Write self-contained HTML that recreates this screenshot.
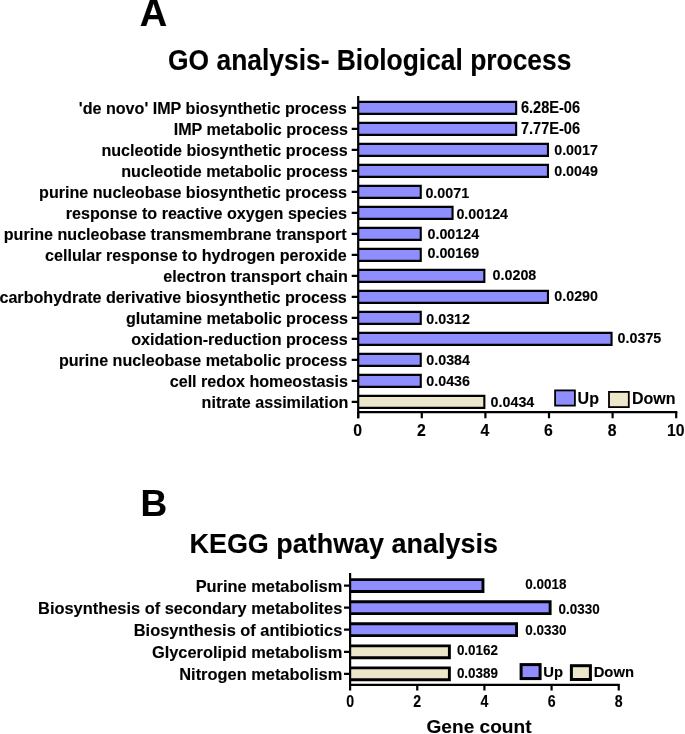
<!DOCTYPE html>
<html lang="en"><head><meta charset="utf-8"><title>GO and KEGG analysis</title>
<style>html,body{margin:0;padding:0;background:#fff}svg{display:block}text{font-family:"Liberation Sans",Arial,Helvetica,sans-serif;font-weight:bold;fill:#000;stroke:#000;stroke-width:0.12px}</style></head><body>
<svg width="685" height="734" viewBox="0 0 685 734">
<rect width="685" height="734" fill="#fff"/>
<text x="139.8" y="26" font-size="38">A</text>
<text transform="translate(168.10 70.10) scale(1 1.085)" font-size="26.4">GO analysis- Biological process</text>
<g font-size="16.12" text-anchor="end">
<text x="346.70" y="113.85">'de novo' IMP biosynthetic process</text>
<text x="348.00" y="134.85">IMP metabolic process</text>
<text x="347.60" y="155.85">nucleotide biosynthetic process</text>
<text x="347.75" y="176.85">nucleotide metabolic process</text>
<text x="347.00" y="197.85">purine nucleobase biosynthetic process</text>
<text x="347.00" y="218.85">response to reactive oxygen species</text>
<text x="346.65" y="239.85">purine nucleobase transmembrane transport</text>
<text x="346.80" y="260.85">cellular response to hydrogen peroxide</text>
<text x="347.75" y="281.85">electron transport chain</text>
<text x="346.80" y="302.85">carbohydrate derivative biosynthetic process</text>
<text x="347.90" y="323.85">glutamine metabolic process</text>
<text x="347.75" y="344.85">oxidation-reduction process</text>
<text x="347.20" y="365.85">purine nucleobase metabolic process</text>
<text x="347.90" y="386.85">cell redox homeostasis</text>
<text x="348.40" y="407.85">nitrate assimilation</text>
</g>
<g stroke="#000" stroke-width="2.1">
<path d="M358.2 101.85H516.15V113.85H358.2" fill="#8e8eff"/>
<path d="M358.2 122.85H516.15V134.85H358.2" fill="#8e8eff"/>
<path d="M358.2 143.85H547.95V155.85H358.2" fill="#8e8eff"/>
<path d="M358.2 164.85H547.95V176.85H358.2" fill="#8e8eff"/>
<path d="M358.2 185.85H420.75V197.85H358.2" fill="#8e8eff"/>
<path d="M358.2 206.85H452.55V218.85H358.2" fill="#8e8eff"/>
<path d="M358.2 227.85H420.75V239.85H358.2" fill="#8e8eff"/>
<path d="M358.2 248.85H420.75V260.85H358.2" fill="#8e8eff"/>
<path d="M358.2 269.85H484.35V281.85H358.2" fill="#8e8eff"/>
<path d="M358.2 290.85H547.95V302.85H358.2" fill="#8e8eff"/>
<path d="M358.2 311.85H420.75V323.85H358.2" fill="#8e8eff"/>
<path d="M358.2 332.85H611.55V344.85H358.2" fill="#8e8eff"/>
<path d="M358.2 353.85H420.75V365.85H358.2" fill="#8e8eff"/>
<path d="M358.2 374.85H420.75V386.85H358.2" fill="#8e8eff"/>
<path d="M358.2 395.85H484.35V407.85H358.2" fill="#ece7ca"/>
</g>
<g stroke="#000" stroke-width="2.2" fill="none">
<path d="M358.2 96V418.3M357.09999999999997 412.1H677.30"/>
<path d="M351.7 107.85H358.2M351.7 128.85H358.2M351.7 149.85H358.2M351.7 170.85H358.2M351.7 191.85H358.2M351.7 212.85H358.2M351.7 233.85H358.2M351.7 254.85H358.2M351.7 275.85H358.2M351.7 296.85H358.2M351.7 317.85H358.2M351.7 338.85H358.2M351.7 359.85H358.2M351.7 380.85H358.2M351.7 401.85H358.2M358.20 412.1V418.3M421.80 412.1V418.3M485.40 412.1V418.3M549.00 412.1V418.3M612.60 412.1V418.3M676.20 412.1V418.3"/>
</g>
<g>
<text transform="translate(520.90 112.80) scale(1 1.075)" font-size="14.6" stroke-width="0.05">6.28E-06</text>
<text transform="translate(520.90 133.50) scale(1 1.075)" font-size="14.6" stroke-width="0.05">7.77E-06</text>
<text transform="translate(554.20 155.20) scale(1 1.075)" font-size="14.3" stroke-width="0.05">0.0017</text>
<text transform="translate(554.20 175.50) scale(1 1.075)" font-size="14.3" stroke-width="0.05">0.0049</text>
<text transform="translate(425.40 197.80) scale(1 1.075)" font-size="14.3" stroke-width="0.05">0.0071</text>
<text transform="translate(456.40 218.80) scale(1 1.075)" font-size="14.3" stroke-width="0.05">0.00124</text>
<text transform="translate(427.50 239.00) scale(1 1.075)" font-size="14.3" stroke-width="0.05">0.00124</text>
<text transform="translate(427.50 257.90) scale(1 1.075)" font-size="14.3" stroke-width="0.05">0.00169</text>
<text transform="translate(492.60 280.30) scale(1 1.075)" font-size="14.3" stroke-width="0.05">0.0208</text>
<text transform="translate(554.30 301.20) scale(1 1.075)" font-size="14.3" stroke-width="0.05">0.0290</text>
<text transform="translate(426.30 323.60) scale(1 1.075)" font-size="14.3" stroke-width="0.05">0.0312</text>
<text transform="translate(617.60 342.90) scale(1 1.075)" font-size="14.3" stroke-width="0.05">0.0375</text>
<text transform="translate(426.30 365.10) scale(1 1.075)" font-size="14.3" stroke-width="0.05">0.0384</text>
<text transform="translate(426.30 386.30) scale(1 1.075)" font-size="14.3" stroke-width="0.05">0.0436</text>
<text transform="translate(490.60 406.80) scale(1 1.075)" font-size="14.3" stroke-width="0.05">0.0434</text>
</g>
<g font-size="15.8" text-anchor="middle">
<text x="357.7" y="436.3">0</text>
<text x="421.3" y="436.3">2</text>
<text x="484.9" y="436.3">4</text>
<text x="548.5" y="436.3">6</text>
<text x="612.1" y="436.3">8</text>
<text x="675.7" y="436.3">10</text>
</g>
<rect x="555.1" y="390.4" width="19.8" height="15.2" fill="#8e8eff" stroke="#000" stroke-width="1.8"/>
<text x="577.6" y="403.6" font-size="16">Up</text>
<rect x="609" y="391.9" width="19.8" height="15.2" fill="#ece7ca" stroke="#000" stroke-width="1.8"/>
<text x="632" y="403.6" font-size="16">Down</text>
<text x="140.4" y="515.7" font-size="37">B</text>
<text x="189.5" y="552.6" font-size="26.95">KEGG pathway analysis</text>
<g font-size="16.4" text-anchor="end">
<text x="342.3" y="591.8">Purine metabolism</text>
<text x="342.3" y="613.8">Biosynthesis of secondary metabolites</text>
<text x="342.3" y="635.9">Biosynthesis of antibiotics</text>
<text x="342.3" y="658.0">Glycerolipid metabolism</text>
<text x="342.3" y="680.1">Nitrogen metabolism</text>
</g>
<g stroke="#000" stroke-width="2.9">
<path d="M350.1 579.60H482.97V591.50H350.1" fill="#8e8eff"/>
<path d="M350.1 601.68H550.13V613.58H350.1" fill="#8e8eff"/>
<path d="M350.1 623.76H516.55V635.66H350.1" fill="#8e8eff"/>
<path d="M350.1 645.84H449.39V657.74H350.1" fill="#ece7ca"/>
<path d="M350.1 667.92H449.39V679.82H350.1" fill="#ece7ca"/>
</g>
<g stroke="#000" stroke-width="2.2" fill="none">
<path d="M350.1 573V690.6M349.0 684.9H619.84M344 585.55H350.1M344 607.63H350.1M344 629.71H350.1M344 651.79H350.1M344 673.87H350.1M350.10 684.9V690.6M417.26 684.9V690.6M484.42 684.9V690.6M551.58 684.9V690.6M618.74 684.9V690.6"/>
</g>
<g>
<text transform="translate(525.30 588.90) scale(1 1.085)" font-size="13.45" stroke-width="0.05">0.0018</text>
<text transform="translate(558.60 613.50) scale(1 1.085)" font-size="13.45" stroke-width="0.05">0.0330</text>
<text transform="translate(525.30 635.00) scale(1 1.085)" font-size="13.45" stroke-width="0.05">0.0330</text>
<text transform="translate(456.90 654.80) scale(1 1.085)" font-size="13.45" stroke-width="0.05">0.0162</text>
<text transform="translate(456.90 677.60) scale(1 1.085)" font-size="13.45" stroke-width="0.05">0.0389</text>
</g>
<g text-anchor="middle">
<text transform="translate(350.10 707.40) scale(0.9 1)" font-size="15.7" stroke-width="0.05">0</text>
<text transform="translate(417.26 707.40) scale(0.9 1)" font-size="15.7" stroke-width="0.05">2</text>
<text transform="translate(484.42 707.40) scale(0.9 1)" font-size="15.7" stroke-width="0.05">4</text>
<text transform="translate(551.58 707.40) scale(0.9 1)" font-size="15.7" stroke-width="0.05">6</text>
<text transform="translate(618.74 707.40) scale(0.9 1)" font-size="15.7" stroke-width="0.05">8</text>
</g>
<rect x="521.1" y="664.6" width="19" height="14" fill="#8e8eff" stroke="#000" stroke-width="3"/>
<text x="543.3" y="677" font-size="14.8">Up</text>
<rect x="571.4" y="665.7" width="19" height="13.8" fill="#ece7ca" stroke="#000" stroke-width="3"/>
<text x="593.7" y="677" font-size="14.8">Down</text>
<text x="426.5" y="733" font-size="19.1">Gene count</text>
</svg></body></html>
